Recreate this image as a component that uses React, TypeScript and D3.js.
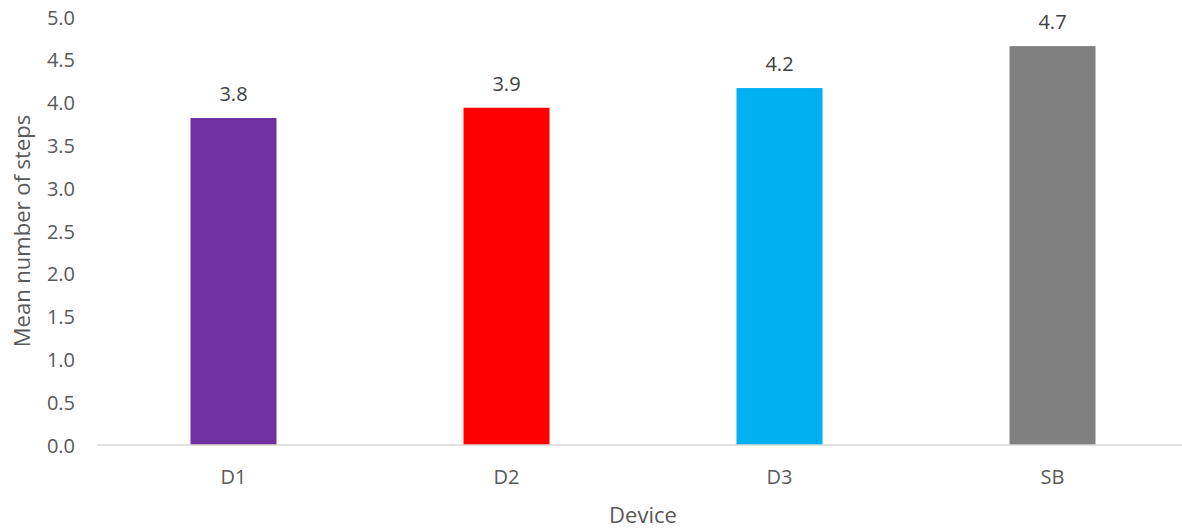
import React from "react";
import * as d3 from "d3";

const devices = ["D1", "D2", "D3", "SB"];
const meanSteps = [3.82, 3.94, 4.17, 4.66];
const barColors = ["#7030A0", "#FF0000", "#00B0F0", "#808080"];
const yTicks = [0, 0.5, 1, 1.5, 2, 2.5, 3, 3.5, 4, 4.5, 5];

const W = 1182;
const H = 529;
const margin = { left: 97, right: -7, top: 17, bottom: 84 };
const FONT = "'Open Sans', 'Liberation Sans', sans-serif";
const TEXT = "#595959";

export default function App() {
  const x = d3
    .scaleBand<string>()
    .domain(devices)
    .range([margin.left, W - margin.right])
    .paddingInner(0.685)
    .paddingOuter(0.3425);
  const y = d3.scaleLinear().domain([0, 5]).range([H - margin.bottom, margin.top]);
  const fmt = d3.format(".1f");
  const baseY = y(0);

  return (
    <div style={{ position: "fixed", left: 0, top: 0 }}>
      <svg width={W} height={H} style={{ display: "block", background: "#fff" }} fontFamily={FONT}>
        {yTicks.map((t) => (
          <text
            key={t}
            x={75}
            y={y(t)}
            textAnchor="end"
            dominantBaseline="central"
            fontSize={20}
            fill={TEXT}
          >
            {fmt(t)}
          </text>
        ))}
        {devices.map((d, i) => (
          <g key={d}>
            <rect
              x={x(d)!}
              y={y(meanSteps[i])}
              width={x.bandwidth()}
              height={baseY - y(meanSteps[i])}
              fill={barColors[i]}
            />
            <text
              x={x(d)! + x.bandwidth() / 2}
              y={y(meanSteps[i]) - 17}
              textAnchor="middle"
              fontSize={20}
              fill="#404040"
            >
              {fmt(meanSteps[i])}
            </text>
            <text
              x={x(d)! + x.bandwidth() / 2}
              y={484}
              textAnchor="middle"
              fontSize={20}
              fill={TEXT}
            >
              {d}
            </text>
          </g>
        ))}
        <line x1={margin.left} x2={W} y1={baseY} y2={baseY} stroke="#D9D9D9" strokeWidth={1.5} />
        <text
          x={(margin.left + W - margin.right) / 2}
          y={523}
          textAnchor="middle"
          fontSize={22}
          fill={TEXT}
        >
          Device
        </text>
        <text
          transform={`translate(30, ${(y(0) + y(5)) / 2}) rotate(-90)`}
          textAnchor="middle"
          fontSize={22}
          fill={TEXT}
        >
          Mean number of steps
        </text>
      </svg>
    </div>
  );
}
